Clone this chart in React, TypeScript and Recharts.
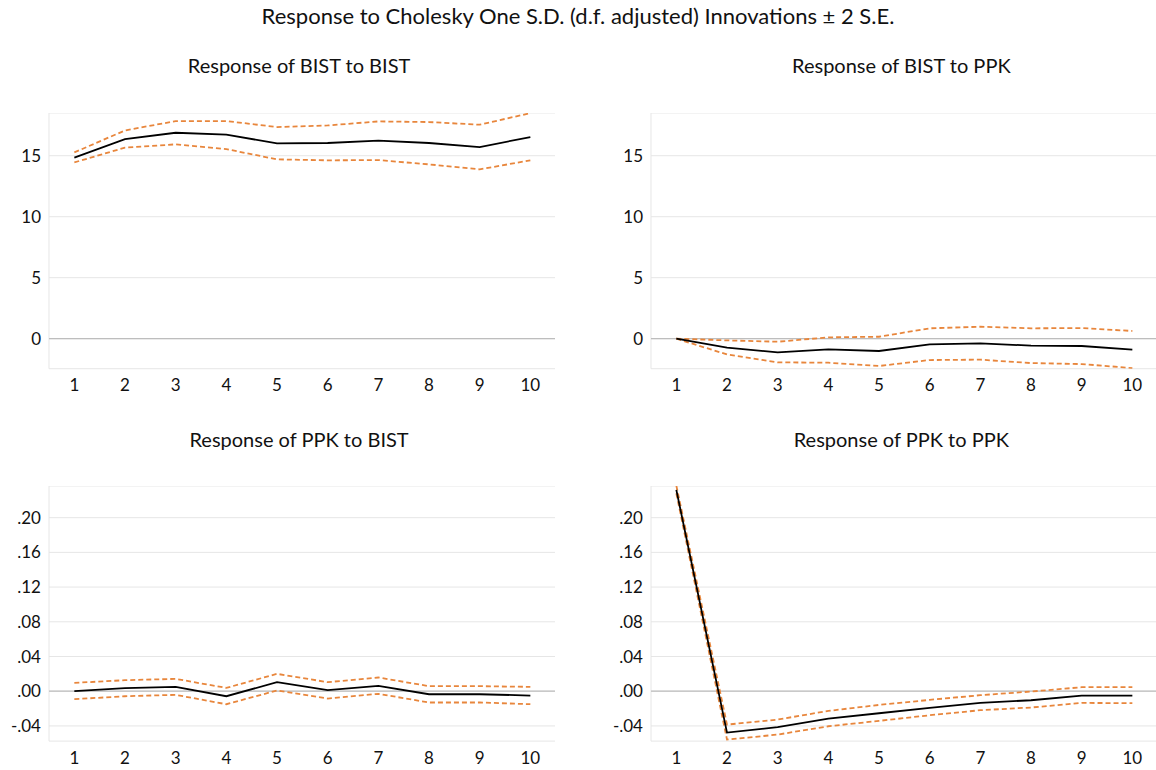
import { LineChart, Line, XAxis, YAxis, CartesianGrid, ReferenceLine } from 'recharts'

// horizon (periods after the shock)
const periods = [1, 2, 3, 4, 5, 6, 7, 8, 9, 10]
const gridBreaks = [1.5, 2.5, 3.5, 4.5, 5.5, 6.5, 7.5, 8.5, 9.5]

// Response of BIST to BIST
const bistBist = [14.84, 16.36, 16.88, 16.72, 16.01, 16.04, 16.23, 16.04, 15.71, 16.53]
const bistBistHi = [15.27, 17.07, 17.84, 17.84, 17.35, 17.48, 17.81, 17.76, 17.54, 18.49]
const bistBistLo = [14.45, 15.66, 15.93, 15.54, 14.7, 14.62, 14.64, 14.29, 13.88, 14.62]

// Response of BIST to PPK
const bistPpk = [0, -0.74, -1.12, -0.87, -1.01, -0.46, -0.38, -0.57, -0.6, -0.9]
const bistPpkHi = [0, -0.14, -0.25, 0.11, 0.16, 0.85, 0.98, 0.85, 0.87, 0.63]
const bistPpkLo = [0, -1.29, -1.94, -1.97, -2.24, -1.75, -1.72, -2.0, -2.08, -2.41]

// Response of PPK to BIST
const ppkBist = [0, 0.0035, 0.005, -0.0058, 0.0104, 0.0012, 0.0062, -0.0035, -0.0035, -0.005]
const ppkBistHi = [0.0096, 0.0127, 0.0142, 0.0038, 0.02, 0.0104, 0.0158, 0.0058, 0.0058, 0.005]
const ppkBistLo = [-0.0092, -0.0058, -0.0042, -0.015, 0.0008, -0.0085, -0.003, -0.013, -0.013, -0.015]

// Response of PPK to PPK
const ppkPpk = [0.232, -0.0477, -0.0415, -0.0315, -0.0254, -0.0192, -0.0135, -0.0104, -0.005, -0.005]
const ppkPpkHi = [0.237, -0.0385, -0.0327, -0.0227, -0.0158, -0.01, -0.0046, -0.0004, 0.0046, 0.0046]
const ppkPpkLo = [0.228, -0.0558, -0.05, -0.0404, -0.0342, -0.0277, -0.0219, -0.0188, -0.0135, -0.0138]

const bistTicks = [0, 5, 10, 15]
const ppkTicks = [-0.04, 0, 0.04, 0.08, 0.12, 0.16, 0.2]

const FONT = 'Lato, "Noto Sans", sans-serif'
const ORANGE = '#E8863C'

const rowsOf = (mid: number[], hi: number[], lo: number[]) =>
  periods.map((p, i) => ({ p, mid: mid[i], hi: hi[i], lo: lo[i] }))

const fmtBist = (v: number) => String(v)
const fmtPpk = (v: number) => v.toFixed(2).replace('0.', '.')

type PanelProps = {
  title: string
  titleY: number
  rows: { p: number; mid: number; hi: number; lo: number }[]
  domain: [number, number]
  ticks: number[]
  fmt: (v: number) => string
  left: number
  top: number
  w: number
  h: number
}

const AXIS_W = 45
const AXIS_H = 30

function Panel({ title, titleY, rows, domain, ticks, fmt, left, top, w, h }: PanelProps) {
  return (
    <>
      <div
        style={{
          position: 'absolute',
          left: left + w / 2 - 3,
          top: titleY,
          transform: 'translateX(-50%)',
          whiteSpace: 'nowrap',
          fontFamily: FONT,
          fontSize: 20,
          color: '#111',
        }}
      >
        {title}
      </div>
      <div style={{ position: 'absolute', left: left - AXIS_W, top }}>
        <LineChart
          width={AXIS_W + w}
          height={h + AXIS_H}
          data={rows}
          margin={{ top: 0, right: 0, bottom: 0, left: 0 }}
        >
          <CartesianGrid stroke="#e6e6e6" xAxisId="grid" />
          <XAxis
            dataKey="p"
            type="number"
            domain={[0.5, 10.5]}
            ticks={periods}
            interval={0}
            axisLine={false}
            tickLine={false}
            tickSize={0}
            tickMargin={10.5}
            height={AXIS_H}
            tick={{ fill: '#111', fontSize: 17, fontFamily: FONT }}
          />
          <XAxis
            xAxisId="grid"
            dataKey="p"
            type="number"
            domain={[0.5, 10.5]}
            ticks={gridBreaks}
            axisLine={false}
            tickLine={false}
            tick={false}
            height={0}
          />
          <YAxis
            type="number"
            domain={domain}
            ticks={ticks}
            allowDataOverflow
            interval={0}
            width={AXIS_W}
            axisLine={false}
            tickLine={false}
            tickSize={0}
            tickMargin={8}
            tickFormatter={fmt}
            tick={{ fill: '#111', fontSize: 17, fontFamily: FONT }}
          />
          <ReferenceLine y={0} stroke="#bdbdbd" strokeWidth={1.2} />
          <Line dataKey="hi" stroke={ORANGE} strokeWidth={1.8} strokeDasharray="5 3" dot={false} isAnimationActive={false} />
          <Line dataKey="lo" stroke={ORANGE} strokeWidth={1.8} strokeDasharray="5 3" dot={false} isAnimationActive={false} />
          <Line dataKey="mid" stroke="#000" strokeWidth={1.8} dot={false} isAnimationActive={false} />
        </LineChart>
      </div>
    </>
  )
}

export default function App() {
  return (
    <div
      style={{
        position: 'absolute',
        left: 0,
        top: 0,
        width: 1156,
        height: 770,
        overflow: 'hidden',
        background: '#fff',
      }}
    >
      <div
        style={{
          position: 'absolute',
          left: 578,
          top: 2,
          transform: 'translateX(-50%)',
          whiteSpace: 'nowrap',
          fontFamily: FONT,
          fontSize: 22,
          color: '#111',
        }}
      >
        Response to Cholesky One S.D. (d.f. adjusted) Innovations ± 2 S.E.
      </div>
      <Panel
        title="Response of BIST to BIST"
        titleY={53}
        rows={rowsOf(bistBist, bistBistHi, bistBistLo)}
        domain={[-2.46, 18.5]}
        ticks={bistTicks}
        fmt={fmtBist}
        left={48.7}
        top={112.6}
        w={506.7}
        h={255.7}
      />
      <Panel
        title="Response of BIST to PPK"
        titleY={53}
        rows={rowsOf(bistPpk, bistPpkHi, bistPpkLo)}
        domain={[-2.46, 18.5]}
        ticks={bistTicks}
        fmt={fmtBist}
        left={651}
        top={112.6}
        w={506.7}
        h={255.7}
      />
      <Panel
        title="Response of PPK to BIST"
        titleY={427}
        rows={rowsOf(ppkBist, ppkBistHi, ppkBistLo)}
        domain={[-0.0575, 0.2365]}
        ticks={ppkTicks}
        fmt={fmtPpk}
        left={48.7}
        top={485.8}
        w={506.7}
        h={255.1}
      />
      <Panel
        title="Response of PPK to PPK"
        titleY={427}
        rows={rowsOf(ppkPpk, ppkPpkHi, ppkPpkLo)}
        domain={[-0.0575, 0.2365]}
        ticks={ppkTicks}
        fmt={fmtPpk}
        left={651}
        top={485.8}
        w={506.7}
        h={255.1}
      />
    </div>
  )
}
